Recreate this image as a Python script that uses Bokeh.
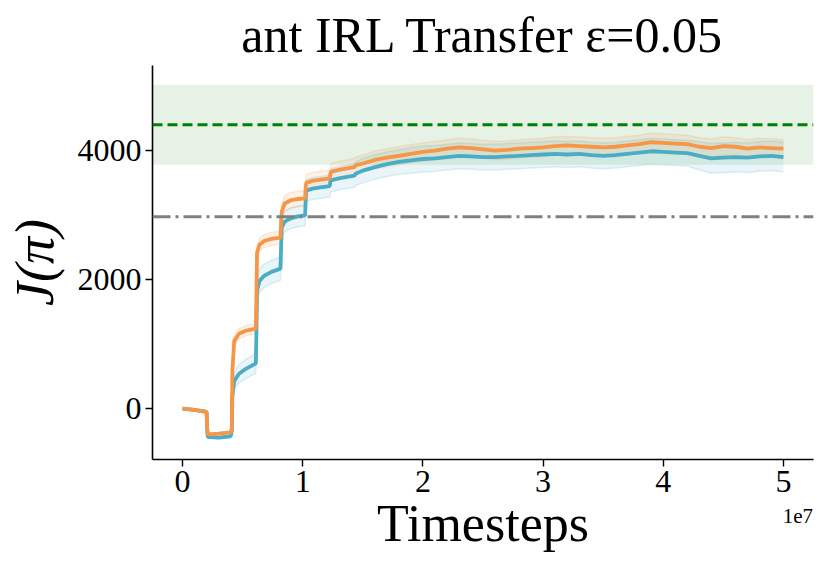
from bokeh.plotting import figure
from bokeh.models import ColumnDataSource, Span, BoxAnnotation, FixedTicker, Range1d, LinearAxis
from bokeh.embed import file_html
from bokeh.resources import INLINE

# timesteps in units of 1e7
steps = [0, 0.1, 0.2, 0.205, 0.21, 0.3, 0.4, 0.41, 0.415, 0.43, 0.47, 0.53, 0.61, 0.615, 0.62,
         0.64, 0.68, 0.74, 0.815, 0.82, 0.825, 0.85, 0.9, 0.96, 1.02, 1.025, 1.03, 1.08, 1.15,
         1.225, 1.23, 1.235, 1.3, 1.43, 1.44, 1.5, 1.6, 1.7, 1.8, 1.9, 2.0, 2.1, 2.2, 2.3, 2.4,
         2.5, 2.6, 2.7, 2.8, 2.9, 3.0, 3.1, 3.2, 3.3, 3.4, 3.5, 3.6, 3.7, 3.8, 3.9, 4.0, 4.1,
         4.2, 4.3, 4.4, 4.5, 4.6, 4.7, 4.8, 4.9, 5.0]

orange_mean = [0, -20, -50, -300, -400, -390, -370, -300, 600, 1050, 1160, 1210, 1240, 1800, 2420,
               2540, 2600, 2630, 2650, 2900, 3050, 3180, 3230, 3250, 3260, 3450, 3500, 3530, 3550,
               3570, 3640, 3670, 3700, 3745, 3770, 3800, 3855, 3890, 3920, 3950, 3980, 4000, 4030,
               4050, 4040, 4020, 4000, 4010, 4030, 4040, 4050, 4070, 4080, 4070, 4060, 4050, 4060,
               4080, 4100, 4130, 4120, 4110, 4100, 4060, 4040, 4070, 4060, 4030, 4050, 4040, 4030]
orange_std = [5, 10, 15, 20, 20, 20, 20, 30, 60, 80, 80, 80, 80, 90, 100,
              100, 100, 100, 100, 110, 120, 120, 120, 120, 120, 130, 130, 130, 130,
              130, 130, 130, 130, 130, 130, 130, 140, 140, 140, 140, 140, 140, 140,
              140, 140, 140, 140, 140, 140, 140, 140, 140, 140, 140, 140, 140, 140,
              140, 140, 140, 140, 140, 140, 140, 140, 140, 140, 140, 140, 140, 140]

blue_mean = [0, -20, -50, -320, -440, -450, -430, -350, 200, 430, 540, 620, 700, 1200, 1830,
             1980, 2060, 2120, 2170, 2500, 2810, 2900, 2950, 2980, 2995, 3250, 3380, 3410, 3430,
             3450, 3520, 3540, 3570, 3612, 3640, 3690, 3745, 3790, 3825, 3850, 3870, 3880, 3900,
             3920, 3910, 3900, 3900, 3910, 3920, 3930, 3940, 3950, 3940, 3950, 3930, 3920, 3930,
             3950, 3970, 3990, 3980, 3970, 3960, 3920, 3880, 3890, 3900, 3890, 3910, 3920, 3900]
blue_std = [5, 10, 15, 20, 20, 20, 20, 40, 100, 130, 140, 150, 150, 160, 180,
            180, 180, 180, 180, 170, 160, 160, 160, 160, 160, 170, 170, 170, 170,
            170, 170, 180, 180, 180, 180, 190, 190, 190, 190, 200, 200, 200, 200,
            200, 200, 200, 200, 200, 200, 200, 200, 200, 200, 200, 200, 200, 200,
            200, 200, 200, 200, 200, 200, 220, 230, 230, 230, 230, 230, 230, 230]

expert_mean = 4400
expert_std = 620
baseline = 2975

x_ticks = [0, 1, 2, 3, 4, 5]
y_ticks = [0, 2000, 4000]
offset_text = "1e7"

ORANGE = "#f79646"
BLUE = "#4bacc6"
FONT = "Liberation Serif"

p = figure(width=822, height=561, output_backend="svg", toolbar_location=None,
           x_range=Range1d(-0.25, 5.25), y_range=Range1d(-790, 5320),
           min_border_left=152, min_border_right=9, min_border_top=65, min_border_bottom=102,
           title="ant IRL Transfer ε=0.05")
p.outline_line_color = None
p.grid.visible = False

p.title.align = "center"
p.title.text_font = FONT
p.title.text_font_size = "50px"
p.title.text_font_style = "normal"
p.title.text_color = "black"
p.title.standoff = 6

band = BoxAnnotation(bottom=expert_mean - expert_std, top=expert_mean + expert_std,
                     fill_color="green", fill_alpha=0.1, line_color=None, level="underlay")
p.add_layout(band)

src_o = ColumnDataSource(dict(x=steps, y=orange_mean,
                              lo=[m - s for m, s in zip(orange_mean, orange_std)],
                              hi=[m + s for m, s in zip(orange_mean, orange_std)]))
src_b = ColumnDataSource(dict(x=steps, y=blue_mean,
                              lo=[m - s for m, s in zip(blue_mean, blue_std)],
                              hi=[m + s for m, s in zip(blue_mean, blue_std)]))

p.varea(x="x", y1="lo", y2="hi", source=src_b, fill_color=BLUE, fill_alpha=0.12)
p.varea(x="x", y1="lo", y2="hi", source=src_o, fill_color=ORANGE, fill_alpha=0.12)
for src, c in ((src_b, BLUE), (src_o, ORANGE)):
    p.line(x="x", y="lo", source=src, line_color=c, line_alpha=0.18, line_width=1.5)
    p.line(x="x", y="hi", source=src, line_color=c, line_alpha=0.18, line_width=1.5)

p.line(x="x", y="y", source=src_b, line_color=BLUE, line_width=3.8)
p.line(x="x", y="y", source=src_o, line_color=ORANGE, line_width=3.8)

p.add_layout(Span(location=expert_mean, dimension="width", line_color="green",
                  line_width=3, line_dash="10 5"))
p.add_layout(Span(location=baseline, dimension="width", line_color="gray",
                  line_width=3, line_dash="18 5 3 5"))

for ax in (p.xaxis[0], p.yaxis[0]):
    ax.axis_line_color = "black"
    ax.axis_line_width = 1.6
    ax.major_tick_line_width = 1.4
    ax.major_tick_in = 0
    ax.major_tick_out = 7
    ax.minor_tick_line_color = None
    ax.major_label_text_font = FONT
    ax.major_label_text_font_size = "32px"
    ax.major_label_text_color = "black"
    ax.major_label_standoff = 4
    ax.axis_label_text_font = FONT
    ax.axis_label_text_color = "black"
    ax.axis_label_text_font_style = "normal"

p.xaxis.ticker = FixedTicker(ticks=x_ticks)
p.yaxis.ticker = FixedTicker(ticks=y_ticks)
p.yaxis.axis_label = "J(π)"
p.yaxis.axis_label_text_font_size = "54px"
p.yaxis.axis_label_text_font_style = "italic"
p.yaxis.axis_label_standoff = 10

# second (label-only) x axis carrying the offset text "1e7" and the axis title
ax2 = LinearAxis(ticker=FixedTicker(ticks=[5.12]), axis_line_color=None,
                 major_tick_line_color=None, minor_tick_line_color=None,
                 major_label_overrides={5.12: offset_text},
                 major_label_text_font=FONT, major_label_text_font_size="21px",
                 major_label_text_color="black", major_label_standoff=8,
                 axis_label="Timesteps", axis_label_text_font=FONT,
                 axis_label_text_font_size="52px", axis_label_text_font_style="normal",
                 axis_label_text_color="black", axis_label_standoff=-31)
p.add_layout(ax2, "below")

open("out.html", "w").write(file_html(p, INLINE))
